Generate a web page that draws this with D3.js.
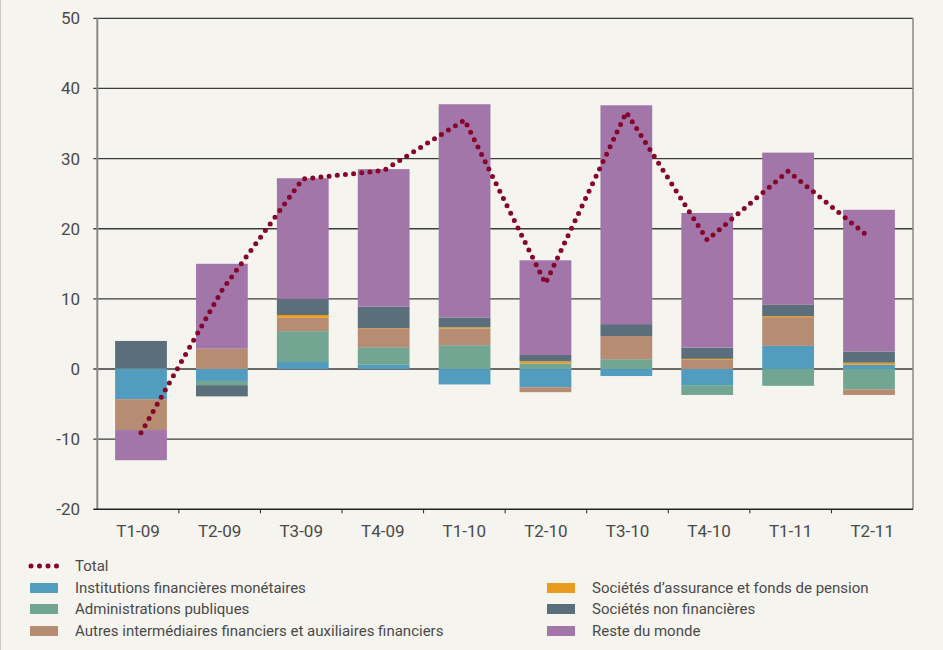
<!DOCTYPE html>
<html>
<head>
<meta charset="utf-8">
<script src="https://cdn.jsdelivr.net/npm/d3@7"></script>
<style>
  body { margin: 0; background: #f5f4ef; }
  text { font-family: Roboto, "Noto Sans", sans-serif; fill: #4a4a4a; }
</style>
</head>
<body>
<div id="chart"></div>
<script>
// categories (quarters)
var categories = ['T1-09', 'T2-09', 'T3-09', 'T4-09', 'T1-10', 'T2-10', 'T3-10', 'T4-10', 'T1-11', 'T2-11'];

// series values
var ifm   = [-4.3, -1.7, 1.0, 0.6, -2.2, -2.6, -1.0, -2.3, 3.3, 0.6];
var apu   = [0.1, -0.6, 4.4, 2.5, 3.4, 0.8, 1.4, -1.4, -2.4, -2.9];
var aif   = [-4.4, 2.9, 1.9, 2.6, 2.4, -0.7, 3.3, 1.3, 4.1, -0.8];
var assur = [0, 0, 0.4, 0.1, 0.15, 0.3, 0, 0.15, 0.15, 0.3];
var snf   = [3.9, -1.6, 2.3, 3.1, 1.4, 0.9, 1.7, 1.6, 1.6, 1.6];
var rdm   = [-4.3, 12.1, 17.2, 19.6, 30.4, 13.5, 31.2, 19.2, 21.7, 20.2];
var total = [-9.1, 11.2, 27.1, 28.3, 35.5, 12.2, 36.6, 18.4, 28.2, 18.8];

var yTicks = [-20, -10, 0, 10, 20, 30, 40, 50];

var seriesNames = [
    'Institutions financières monétaires',
    'Administrations publiques',
    'Autres intermédiaires financiers et auxiliaires financiers',
    'Sociétés d\u2019assurance et fonds de pension',
    'Sociétés non financières',
    'Reste du monde'
];
var seriesValues = [ifm, apu, aif, assur, snf, rdm];
var colors = ['#529cc0', '#72a693', '#b68c72', '#e89b1e', '#5b6e7b', '#a276a8'];
var totalColor = '#86062b';

var width = 943, height = 650;
var plot = { left: 97.3, right: 913, top: 18.3, bottom: 509.3 };

var svg = d3.select('#chart').append('svg')
    .attr('width', width)
    .attr('height', height);

svg.append('rect')
    .attr('width', width).attr('height', height)
    .attr('fill', '#f5f4ef');
// thin frame line on the left edge
svg.append('line')
    .attr('x1', 0.5).attr('x2', 0.5).attr('y1', 0).attr('y2', height)
    .attr('stroke', '#c8c8c4');

// scales
var xAxisScale = d3.scaleBand().domain(categories).range([plot.left, plot.right]);
var xCenter = d3.scalePoint().domain(categories).range([141, 869]);
var barWidth = xCenter.step() * 0.64;
var y = d3.scaleLinear().domain([-20, 50]).range([plot.bottom, plot.top]);

// build the stacked table
var table = categories.map(function (c, i) {
    var row = { cat: c };
    seriesNames.forEach(function (s, k) { row[s] = seriesValues[k][i]; });
    return row;
});
var stack = d3.stack().keys(seriesNames).offset(d3.stackOffsetDiverging);
var layers = stack(table);

// gridlines
svg.append('g').selectAll('line')
    .data(yTicks.filter(function (t) { return t > -20; }))
    .join('line')
    .attr('x1', plot.left - 4).attr('x2', plot.right)
    .attr('y1', function (d) { return y(d); })
    .attr('y2', function (d) { return y(d); })
    .attr('stroke', '#3c3c3c')
    .attr('stroke-width', 1.3);

// bars
svg.append('g').selectAll('g')
    .data(layers)
    .join('g')
    .attr('fill', function (d, i) { return colors[i]; })
    .selectAll('rect')
    .data(function (d) { return d; })
    .join('rect')
    .attr('x', function (d) { return xCenter(d.data.cat) - barWidth / 2; })
    .attr('width', barWidth)
    .attr('y', function (d) { return y(Math.max(d[0], d[1])); })
    .attr('height', function (d) { return Math.abs(y(d[0]) - y(d[1])); });

// left axis and right border
svg.append('line')
    .attr('x1', plot.left).attr('x2', plot.left)
    .attr('y1', plot.top).attr('y2', plot.bottom)
    .attr('stroke', '#8a8a8a').attr('stroke-width', 2);
svg.append('line')
    .attr('x1', plot.right).attr('x2', plot.right)
    .attr('y1', plot.top).attr('y2', plot.bottom)
    .attr('stroke', '#8a8a8a').attr('stroke-width', 1.5);

// y tick labels
svg.append('g').selectAll('text')
    .data(yTicks)
    .join('text')
    .attr('x', 80)
    .attr('y', function (d) { return y(d); })
    .attr('dy', '0.35em')
    .attr('text-anchor', 'end')
    .style('font-size', '17px')
    .text(function (d) { return d; });

// bottom axis
var xAxis = svg.append('g')
    .attr('transform', 'translate(0,' + plot.bottom + ')');
xAxis.append('line')
    .attr('x1', plot.left - 4).attr('x2', plot.right)
    .attr('stroke', '#222').attr('stroke-width', 1.5);
xAxis.selectAll('.tick')
    .data(categories.slice(1))
    .join('line')
    .attr('x1', function (d) { return xAxisScale(d); })
    .attr('x2', function (d) { return xAxisScale(d); })
    .attr('y1', 0).attr('y2', 4)
    .attr('stroke', '#222');
xAxis.selectAll('text')
    .data(categories)
    .join('text')
    .attr('x', function (d) { return xAxisScale(d) + xAxisScale.bandwidth() / 2; })
    .attr('y', 28)
    .attr('text-anchor', 'middle')
    .style('font-size', '17px')
    .text(function (d) { return d; });

// total line (dotted, straight segments)
var line = d3.line()
    .x(function (d, i) { return xCenter(categories[i]); })
    .y(function (d) { return y(d); });
svg.append('path')
    .datum(total)
    .attr('d', line)
    .attr('fill', 'none')
    .attr('stroke', totalColor)
    .attr('stroke-width', 5)
    .attr('stroke-linecap', 'round')
    .attr('stroke-dasharray', '0 8.2');

// legend
var legend = svg.append('g');
var rowsY = [566, 588, 609, 631];
legend.append('line')
    .attr('x1', 31).attr('x2', 57)
    .attr('y1', rowsY[0]).attr('y2', rowsY[0])
    .attr('stroke', totalColor)
    .attr('stroke-width', 5)
    .attr('stroke-linecap', 'round')
    .attr('stroke-dasharray', '0 8.5');
legend.append('text')
    .attr('x', 75).attr('y', rowsY[0]).attr('dy', '0.35em')
    .style('font-size', '15px')
    .text('Total');

var legendItems = seriesNames.map(function (s, i) {
    var col = i < 3 ? 0 : 1;
    var row = i < 3 ? i + 1 : i - 2;
    return { name: s, color: colors[i], x: col === 0 ? 30 : 547, y: rowsY[row] };
});
var li = legend.selectAll('g.item')
    .data(legendItems)
    .join('g')
    .attr('class', 'item');
li.append('rect')
    .attr('x', function (d) { return d.x; })
    .attr('y', function (d) { return d.y - 5; })
    .attr('width', 28).attr('height', 10)
    .attr('fill', function (d) { return d.color; });
li.append('text')
    .attr('x', function (d) { return d.x + 45; })
    .attr('y', function (d) { return d.y; })
    .attr('dy', '0.35em')
    .style('font-size', '15px')
    .text(function (d) { return d.name; });
</script>
</body>
</html>
